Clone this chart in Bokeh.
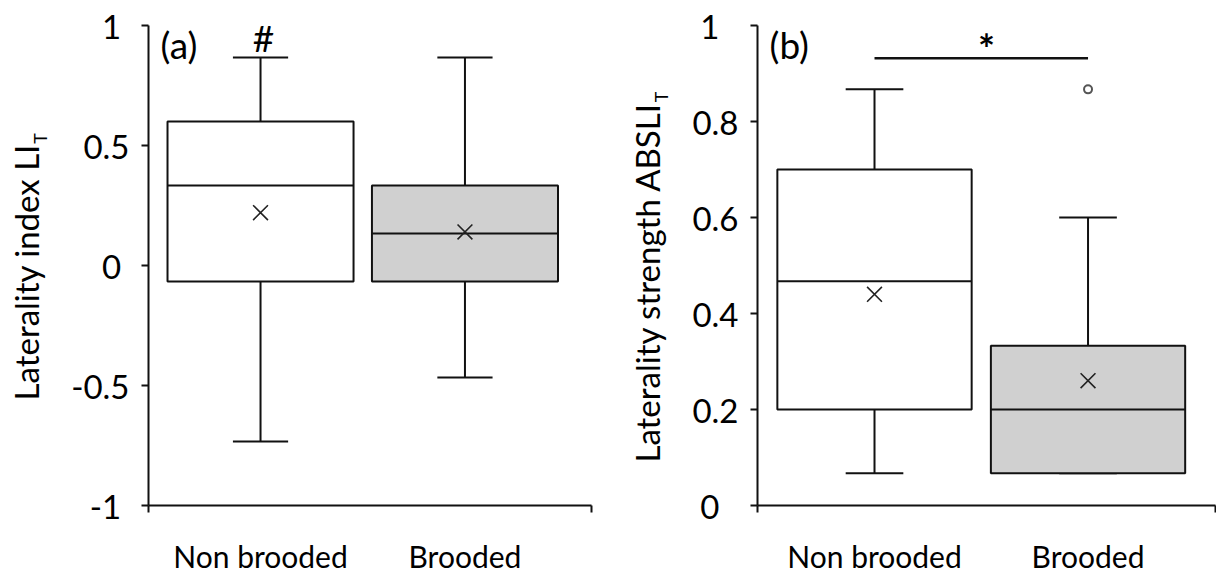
import math
from bokeh.plotting import figure
from bokeh.models import Range1d, FixedTicker, Label
from bokeh.layouts import row
from bokeh.core.properties import value
from bokeh.embed import file_html
from bokeh.resources import INLINE

# ---------------- data ----------------
groups = ["Non brooded", "Brooded"]
positions = [1, 2]
box_fills = ["#ffffff", "#d0d0d0"]

# (a) Laterality index LI_T
a_low = [-0.733, -0.467]
a_q1 = [-0.067, -0.067]
a_median = [0.333, 0.133]
a_q3 = [0.600, 0.333]
a_high = [0.867, 0.867]
a_mean = [0.22, 0.14]

# (b) Laterality strength ABSLI_T
b_low = [0.067, 0.067]
b_q1 = [0.200, 0.067]
b_median = [0.467, 0.200]
b_q3 = [0.700, 0.333]
b_high = [0.867, 0.600]
b_mean = [0.44, 0.26]
b_outlier_pos = [2]
b_outlier = [0.867]

a_ticks = [-1, -0.5, 0, 0.5, 1]
a_tick_text = ["-1\u2009\u2009", "-0.5", "0\u2009\u2009", "0.5", "1\u2009\u2009"]
b_ticks = [0, 0.2, 0.4, 0.6, 0.8, 1]
b_tick_text = ["0\u2007", "0.2", "0.4", "0.6", "0.8", "1\u2007"]

a_ylabel = "Laterality index LI"
b_ylabel = "Laterality strength ABSLI"
ylabel_sub = "T"

sig_y = 0.932

# ---------------- style / layout ----------------
FONT = "Lato"
INK = "#111111"
BOX_W = 0.91
CAP_W = 0.27
H = 576
TOP, BOTTOM = 25, 65
FRAME_H = H - TOP - BOTTOM


def make_panel(width, xr, yr, border_left, border_right, ticks, tick_text):
    p = figure(width=width, height=H, x_range=Range1d(*xr), y_range=Range1d(*yr),
               output_backend="svg", toolbar_location=None,
               min_border_left=border_left, min_border_right=border_right,
               min_border_top=TOP, min_border_bottom=BOTTOM)
    p.xgrid.visible = False
    p.ygrid.visible = False
    p.outline_line_color = None
    p.background_fill_color = "white"
    p.border_fill_color = "white"

    ya = p.yaxis[0]
    ya.ticker = FixedTicker(ticks=ticks, minor_ticks=[])
    ya.major_label_overrides = {t: s for t, s in zip(ticks, tick_text)}
    ya.axis_line_color = INK
    ya.axis_line_width = 2
    ya.major_tick_line_color = INK
    ya.major_tick_line_width = 2
    ya.major_tick_out = 7
    ya.major_tick_in = 0
    ya.minor_tick_line_color = None
    ya.major_label_text_font = FONT
    ya.major_label_text_font_size = "33px"
    ya.major_label_text_color = "#000000"
    ya.major_label_standoff = 12

    xa = p.xaxis[0]
    xa.ticker = FixedTicker(ticks=positions, minor_ticks=[xr[0] + 0.0005, xr[1] - 0.0005])
    xa.major_label_overrides = {t: g for t, g in zip(positions, groups)}
    xa.axis_line_color = INK
    xa.axis_line_width = 2
    xa.major_tick_line_color = None
    xa.major_tick_out = 0
    xa.major_tick_in = 0
    xa.minor_tick_line_color = INK
    xa.minor_tick_line_width = 2
    xa.minor_tick_out = 7
    xa.minor_tick_in = 0
    xa.major_label_text_font = FONT
    xa.major_label_text_font_size = "30px"
    xa.major_label_text_color = "#000000"
    xa.major_label_standoff = 25
    return p


def draw_boxes(p, low, q1, med, q3, high, mean):
    left = [x - BOX_W / 2 for x in positions]
    right = [x + BOX_W / 2 for x in positions]
    cl = [x - CAP_W / 2 for x in positions]
    cr = [x + CAP_W / 2 for x in positions]
    p.segment(x0=positions, y0=q3, x1=positions, y1=high, line_color=INK, line_width=2)
    p.segment(x0=positions, y0=q1, x1=positions, y1=low, line_color=INK, line_width=2)
    p.segment(x0=cl, y0=high, x1=cr, y1=high, line_color=INK, line_width=2)
    p.segment(x0=cl, y0=low, x1=cr, y1=low, line_color=INK, line_width=2)
    p.quad(left=left, right=right, bottom=q1, top=q3, fill_color=box_fills,
           line_color=INK, line_width=2)
    p.segment(x0=left, y0=med, x1=right, y1=med, line_color=INK, line_width=2)
    p.scatter(x=positions, y=mean, marker="x", size=21, line_color="#222222", line_width=1.6)


def label(p, x, y, text, size, align="left", baseline="middle", style="normal"):
    p.add_layout(Label(x=x, y=y, text=text, text_font=FONT, text_font_size=size,
                       text_align=align, text_baseline=baseline,
                       text_color="#000000", text_font_style=style))


def ylabel_fig(width, anchor_x, end_y, main, sub, sub_shift):
    """Narrow strip holding the rotated y-axis title (pixel coordinates)."""
    f = figure(width=width, height=H, x_range=Range1d(0, width), y_range=Range1d(0, H),
               output_backend="svg", toolbar_location=None,
               x_axis_location=None, y_axis_location=None,
               min_border=0, min_border_left=0, min_border_right=0,
               min_border_top=0, min_border_bottom=0)
    f.xgrid.visible = False
    f.ygrid.visible = False
    f.outline_line_color = None
    f.border_fill_color = "white"
    f.text(x=[anchor_x], y=[H - end_y], text=[main], angle=math.pi / 2,
           text_align="right", text_baseline="alphabetic",
           text_font=value(FONT), text_font_size="33px", text_color="#000000")
    f.text(x=[anchor_x + sub_shift], y=[H - end_y], text=[sub], angle=math.pi / 2,
           text_align="left", text_baseline="alphabetic",
           text_font=value(FONT), text_font_size="18px", text_color="#000000")
    return f


# ---------------- panel (a) ----------------
LA_W = 60
A_W = 548
A_BL, A_BR = 88, 17
A_FW = A_W - A_BL - A_BR
A_XR = (0.452, 2.619)
la = ylabel_fig(LA_W, 25, 142, a_ylabel, ylabel_sub, 14)
pa = make_panel(A_W, A_XR, (-1, 1), A_BL, A_BR, a_ticks, a_tick_text)
draw_boxes(pa, a_low, a_q1, a_median, a_q3, a_high, a_mean)


def px_to_x(cx, x_off, bl, fw, xr):
    return xr[0] + (cx - x_off - bl) / fw * (xr[1] - xr[0])


def py_to_y(cy, yr):
    return yr[1] - (cy - TOP) / FRAME_H * (yr[1] - yr[0])


def ax(cx):
    return px_to_x(cx, LA_W, A_BL, A_FW, A_XR)


def ay(cy):
    return py_to_y(cy, (-1, 1))


label(pa, ax(160), ay(44), "(a)", "37px")
label(pa, ax(263), ay(37), "#", "37px", align="center")

# ---------------- panel (b) ----------------
LB_W = 66
B_W = 542
B_BL, B_BR = 83, 1
B_FW = B_W - B_BL - B_BR
B_XR = (0.452, 2.597)
B_X0 = LA_W + A_W + LB_W
lb = ylabel_fig(LB_W, 38, 92, b_ylabel, ylabel_sub, 14)
pb = make_panel(B_W, B_XR, (0, 1), B_BL, B_BR, b_ticks, b_tick_text)
draw_boxes(pb, b_low, b_q1, b_median, b_q3, b_high, b_mean)
pb.scatter(x=b_outlier_pos, y=b_outlier, marker="circle", size=8, fill_color="white",
           line_color="#555555", line_width=2)
pb.line(x=positions, y=[sig_y, sig_y], line_color=INK, line_width=2.5)


def bx(cx):
    return px_to_x(cx, B_X0, B_BL, B_FW, B_XR)


def by(cy):
    return py_to_y(cy, (0, 1))


label(pb, bx(769), by(44), "(b)", "37px")
label(pb, bx(986), by(49), "*", "40px", align="center", style="bold")

layout = row(la, pa, lb, pb)
open("out.html", "w").write(file_html(layout, INLINE))
